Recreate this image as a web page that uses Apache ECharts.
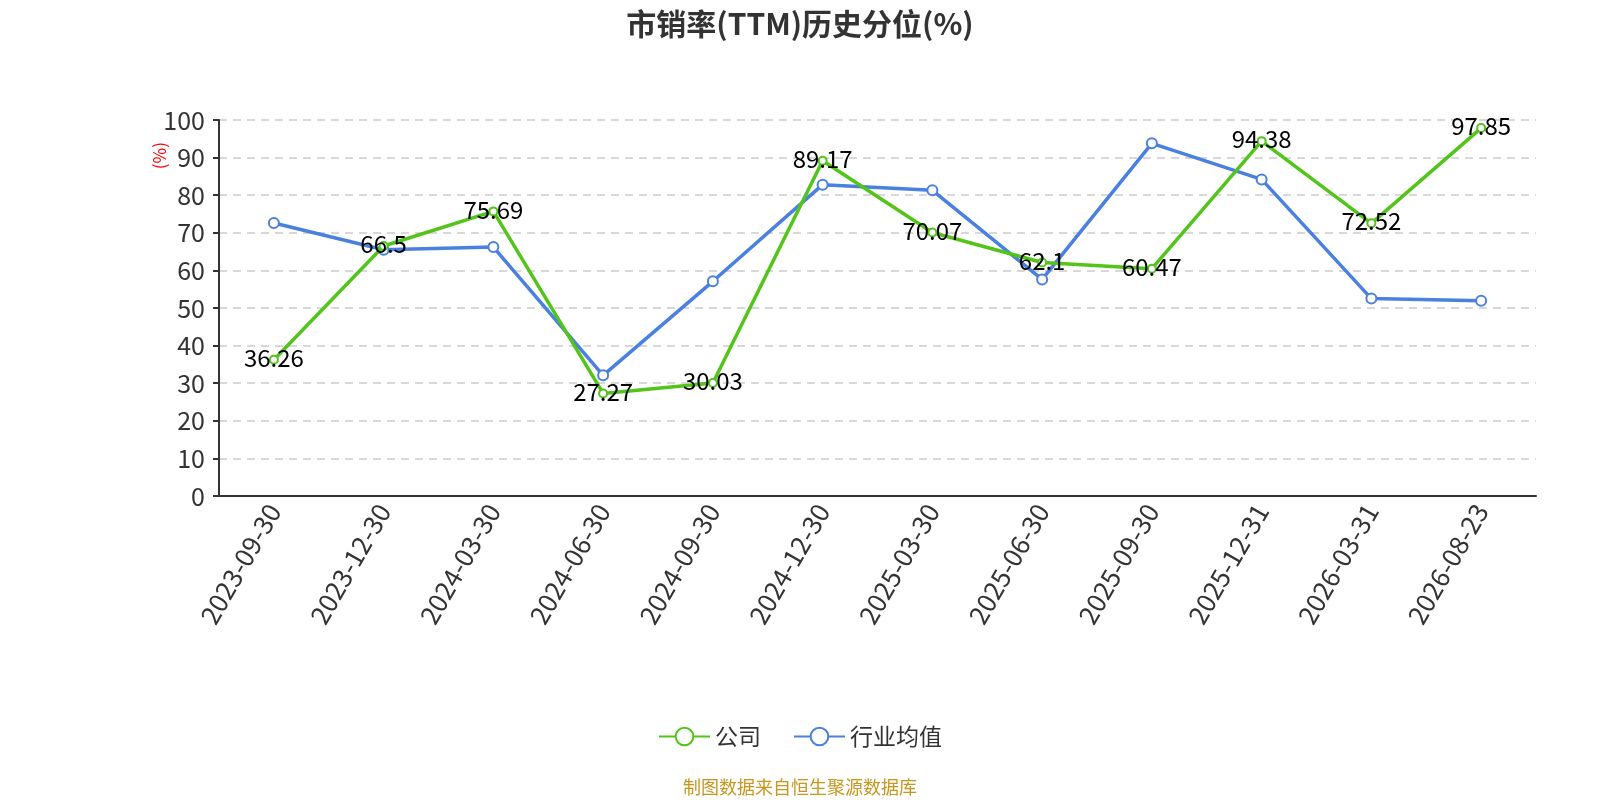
<!DOCTYPE html>
<html>
<head>
<meta charset="UTF-8">
<title>市销率(TTM)历史分位</title>
<script src="https://cdn.jsdelivr.net/npm/echarts@6/dist/echarts.min.js"></script>
<style>
    html, body { margin: 0; padding: 0; background: #fff; }
    #main { width: 1600px; height: 800px; }
</style>
</head>
<body>
    <div id="main"></div>
    <script>
        var dates = ["2023-09-30", "2023-12-30", "2024-03-30", "2024-06-30", "2024-09-30", "2024-12-30",
                     "2025-03-30", "2025-06-30", "2025-09-30", "2025-12-31", "2026-03-31", "2026-08-23"];
        var company = [36.26, 66.5, 75.69, 27.27, 30.03, 89.17, 70.07, 62.1, 60.47, 94.38, 72.52, 97.85];
        var industry = [72.6, 65.5, 66.2, 32.1, 57.1, 82.8, 81.3, 57.6, 93.8, 84.2, 52.5, 51.9];
        var yTicks = [0, 10, 20, 30, 40, 50, 60, 70, 80, 90, 100];

        var font = "'Microsoft YaHei', 'Noto Sans CJK SC', 'Noto Sans', sans-serif";
        var myChart = echarts.init(document.getElementById("main"));

        var option = {
            textStyle: { fontFamily: font },
            title: {
                text: '市销率(TTM)历史分位(%)',
                left: 'center',
                top: 4,
                textStyle: { fontSize: 30, fontWeight: 'bold', color: '#333', fontFamily: font }
            },
            legend: {
                bottom: 47,
                itemWidth: 51,
                itemHeight: 22,
                itemGap: 32,
                textStyle: { fontSize: 23, color: '#333', fontFamily: font },
                data: ['公司', '行业均值']
            },
            graphic: [
                {
                    type: 'text',
                    left: 151,
                    top: 142,
                    rotation: Math.PI / 2,
                    style: { text: '(%)', fill: 'red', fontSize: 17, fontFamily: font }
                },
                {
                    type: 'text',
                    left: 'center',
                    bottom: 4,
                    style: { text: '制图数据来自恒生聚源数据库', fill: '#c8961e', fontSize: 18, fontFamily: font }
                }
            ],
            grid: { left: 219, right: 64, top: 120, bottom: 304 },
            xAxis: {
                type: 'category',
                data: dates,
                boundaryGap: true,
                axisLine: { lineStyle: { color: '#333', width: 2 } },
                axisTick: { length: 6, lineStyle: { color: '#333', width: 2 } },
                axisLabel: { rotate: 60, fontSize: 26, color: '#333', margin: 10, fontFamily: font }
            },
            yAxis: {
                type: 'value',
                min: yTicks[0],
                max: yTicks[yTicks.length - 1],
                interval: 10,
                axisLine: { show: true, lineStyle: { color: '#333', width: 2 } },
                axisTick: { show: true, length: 6, lineStyle: { color: '#333', width: 2 } },
                axisLabel: { fontSize: 25, color: '#333', margin: 14, fontFamily: font },
                splitLine: { lineStyle: { type: [8, 6], color: '#ccc', width: 1.5 } }
            },
            series: [
                {
                    name: '公司',
                    type: 'line',
                    data: company,
                    symbol: 'emptyCircle',
                    symbolSize: 8,
                    lineStyle: { width: 3.5, color: '#52c41a' },
                    itemStyle: { color: '#52c41a', borderWidth: 2 },
                    label: {
                        show: true,
                        position: 'inside',
                        offset: [0, -2],
                        fontSize: 24,
                        color: '#000',
                        fontFamily: font
                    },
                    z: 3
                },
                {
                    name: '行业均值',
                    type: 'line',
                    data: industry,
                    symbol: 'emptyCircle',
                    symbolSize: 10,
                    lineStyle: { width: 3.5, color: '#4a80e0' },
                    itemStyle: { color: '#4a80e0', borderWidth: 2 },
                    z: 2
                }
            ]
        };

        myChart.setOption(option);
    </script>
</body>
</html>
